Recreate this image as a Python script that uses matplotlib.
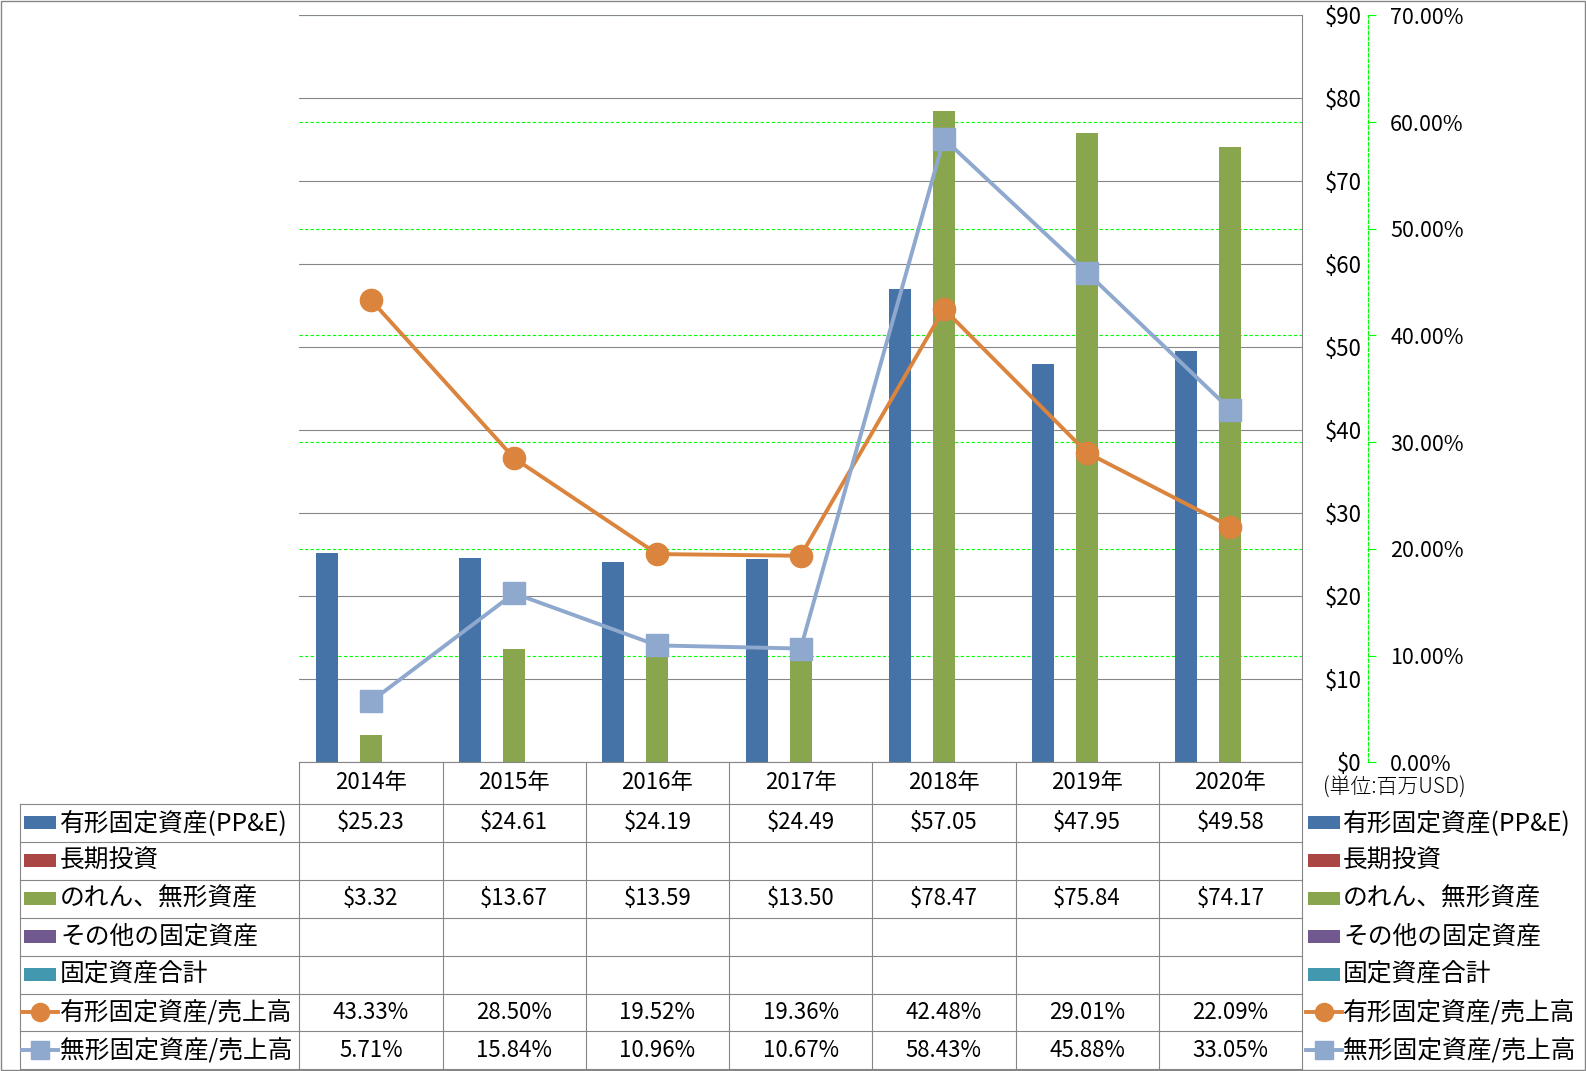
import numpy as np
import matplotlib
matplotlib.use('Agg')
import matplotlib.pyplot as plt
from matplotlib.patches import Rectangle
from matplotlib.lines import Line2D

plt.rcParams['font.family'] = ['Noto Sans CJK JP', 'DejaVu Sans']

# data
years = ['2014年', '2015年', '2016年', '2017年', '2018年', '2019年', '2020年']
ppe = [25.23, 24.61, 24.19, 24.49, 57.05, 47.95, 49.58]
lt_invest = []
goodwill = [3.32, 13.67, 13.59, 13.50, 78.47, 75.84, 74.17]
other_fixed = []
total_fixed = []
ppe_ratio = [43.33, 28.50, 19.52, 19.36, 42.48, 29.01, 22.09]
intang_ratio = [5.71, 15.84, 10.96, 10.67, 58.43, 45.88, 33.05]

bar_names = ['有形固定資産(PP&E)', '長期投資', 'のれん、無形資産', 'その他の固定資産', '固定資産合計']
bar_vals = [ppe, lt_invest, goodwill, other_fixed, total_fixed]
bar_colors = ['#4572A7', '#AA4643', '#89A54E', '#71588F', '#4198AF']
line_names = ['有形固定資産/売上高', '無形固定資産/売上高']
line_vals = [ppe_ratio, intang_ratio]
line_colors = ['#DB843D', '#8EA8CE']
line_markers = ['o', 's']

usd_ticks = np.arange(0, 91, 10)
pct_ticks = np.arange(0, 71, 10)

# layout (pixels)
W, H = 1586, 1071
PL, PR, PT, PB = 299.3, 1302.0, 15.3, 762.4
TL = 20
head_bot = 804
row_h = 37.9
grey = '#868686'

fig = plt.figure(figsize=(W / 100, H / 100), dpi=100)
ax = fig.add_axes([PL / W, 1 - PB / H, (PR - PL) / W, (PB - PT) / H])
ax2 = ax.twinx()

x = np.arange(len(years))
bw = 0.1535
for i, (vals, c) in enumerate(zip(bar_vals, bar_colors)):
    if len(vals):
        ax.bar(x + (i - 2) * bw, vals, bw, color=c, zorder=2)

for vals, c, m in zip(line_vals, line_colors, line_markers):
    ax2.plot(x, vals, color=c, lw=2.8, marker=m, markersize=16,
             markerfacecolor=c, markeredgecolor=c, zorder=3)

ax.set_xlim(-0.5, len(years) - 0.5)
ax.set_ylim(0, 90)
ax2.set_ylim(0, 70)

ax.set_yticks(usd_ticks)
ax.set_yticklabels(['$%d' % t for t in usd_ticks])
ax.yaxis.tick_right()
ax.tick_params(axis='y', length=0, pad=43, labelsize=16)
for lab in ax.get_yticklabels():
    lab.set_horizontalalignment('right')
ax.grid(axis='y', color=grey, lw=0.8)
ax.set_axisbelow(True)
for t in pct_ticks[1:]:
    ax.axhline(t * 90 / 70, color='#00FF00', lw=0.8, ls=(0, (3, 2)), zorder=0.4)

ax.set_xticks(x)
ax.set_xticklabels(years)
ax.tick_params(axis='x', length=0, pad=6, labelsize=16)

for s in ['top', 'left']:
    ax.spines[s].set_visible(False)
ax.spines['bottom'].set_color(grey)
ax.spines['right'].set_color(grey)

ax2.set_yticks(pct_ticks)
ax2.set_yticklabels(['%.2f%%' % t for t in pct_ticks])
ax2.spines['right'].set_position(('axes', (1367.6 - PL) / (PR - PL)))
ax2.spines['right'].set_color('#00FF00')
ax2.spines['right'].set_linestyle((0, (3, 2)))
ax2.spines['right'].set_linewidth(0.8)
for s in ['top', 'left', 'bottom']:
    ax2.spines[s].set_visible(False)
ax2.tick_params(axis='y', length=5.8, color='#00FF00', width=0.8, pad=10.5, labelsize=15.5)

# data table + legends drawn in pixel space
ov = fig.add_axes([0, 0, 1, 1], zorder=-1)
ov.set_xlim(0, W)
ov.set_ylim(H, 0)
ov.axis('off')

colw = (PR - PL) / len(years)
nrows = len(bar_names) + len(line_names)
edges = [head_bot + k * row_h for k in range(nrows + 1)]
for yb in edges:
    ov.plot([TL, PR], [yb, yb], color=grey, lw=0.8)
ov.plot([TL, TL], [edges[0], edges[-1]], color=grey, lw=0.8)
for k in range(len(years) + 1):
    xb = PL + k * colw
    ov.plot([xb, xb], [PB, edges[-1]], color=grey, lw=0.8)

ov.add_patch(Rectangle((0.5, 0.5), W - 1.5, H - 1.5, fill=False, ec=grey, lw=1))

ov.text(1323, 788, '(単位:百万USD)', fontsize=15, weight='light', va='center', ha='left')

names = bar_names + line_names
row_vals = [['$%.2f' % v for v in vals] for vals in bar_vals] + \
           [['%.2f%%' % v for v in vals] for vals in line_vals]


def draw_key(k, x0):
    yc = edges[k] + row_h / 2
    if k < len(bar_names):
        ov.add_patch(Rectangle((x0, yc - 6.5), 32, 13, color=bar_colors[k], lw=0))
    else:
        j = k - len(bar_names)
        ov.add_line(Line2D([x0 - 2, x0 + 34], [yc, yc], color=line_colors[j], lw=2.8))
        ov.add_line(Line2D([x0 + 16], [yc], marker=line_markers[j], markersize=13,
                           color=line_colors[j], lw=0))


for k, name in enumerate(names):
    yc = edges[k] + row_h / 2
    draw_key(k, 24)
    ov.text(60, yc, name, fontsize=17.8, va='center', ha='left')
    draw_key(k, 1308)
    ov.text(1343, yc, name, fontsize=17.8, va='center', ha='left')
    for i, s in enumerate(row_vals[k]):
        ov.text(PL + (i + 0.5) * colw, yc, s, fontsize=16, va='center', ha='center')

fig.savefig('out.png', dpi=100)
